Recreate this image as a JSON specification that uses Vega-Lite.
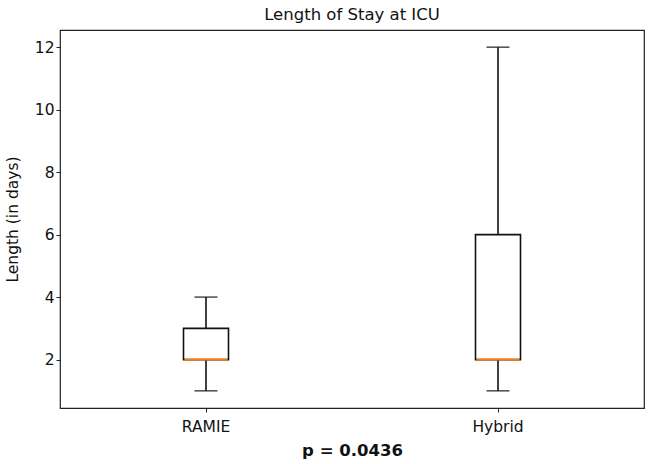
{
  "$schema": "https://vega.github.io/schema/vega-lite/v6.json",
  "width": 584,
  "height": 378,
  "autosize": {"type": "none"},
  "padding": {"left": 60, "top": 30, "right": 5, "bottom": 56},
  "background": "white",
  "title": {"text": "Length of Stay at ICU", "font": "DejaVu Sans", "fontSize": 16.5, "fontWeight": "normal", "color": "#111", "offset": 7},
  "config": {
    "view": {"stroke": "#222", "strokeWidth": 1.2},
    "axis": {"grid": false, "domain": false, "tickColor": "#222", "tickSize": 4, "labelFont": "DejaVu Sans", "labelFontSize": 15.5, "labelColor": "#111", "titleFont": "DejaVu Sans", "titleColor": "#111"}
  },
  "data": {"values": [
    {"group": "RAMIE", "min": 1, "q1": 2, "median": 2, "q3": 3, "max": 4},
    {"group": "Hybrid", "min": 1, "q1": 2, "median": 2, "q3": 6, "max": 12}
  ]},
  "encoding": {
    "x": {"field": "group", "type": "nominal", "sort": ["RAMIE", "Hybrid"],
      "scale": {"type": "band", "paddingInner": 0, "paddingOuter": 0},
      "axis": {"title": "p = 0.0436", "labelAngle": 0, "labelPadding": 7, "titleFontSize": 16.5, "titleFontWeight": "bold", "titlePadding": 8}}
  },
  "layer": [
    {"mark": {"type": "rule", "color": "#111", "strokeWidth": 1.6},
     "encoding": {"y": {"field": "min", "type": "quantitative", "scale": {"domain": [0.45, 12.55], "nice": false, "zero": false},
       "axis": {"title": "Length (in days)", "values": [2, 4, 6, 8, 10, 12], "titleFontSize": 15.5, "titleFontWeight": "normal", "titlePadding": 14}},
       "y2": {"field": "max"}}},
    {"mark": {"type": "bar", "size": 45, "fill": "white", "stroke": "#111", "strokeWidth": 1.6},
     "encoding": {"y": {"field": "q1", "type": "quantitative"}, "y2": {"field": "q3"}}},
    {"mark": {"type": "tick", "size": 23, "thickness": 1.6, "color": "#111"},
     "encoding": {"y": {"field": "min", "type": "quantitative"}}},
    {"mark": {"type": "tick", "size": 23, "thickness": 1.6, "color": "#111"},
     "encoding": {"y": {"field": "max", "type": "quantitative"}}},
    {"mark": {"type": "tick", "size": 43, "thickness": 2, "color": "#ff7f0e", "opacity": 1},
     "encoding": {"y": {"field": "median", "type": "quantitative"}}}
  ]
}
